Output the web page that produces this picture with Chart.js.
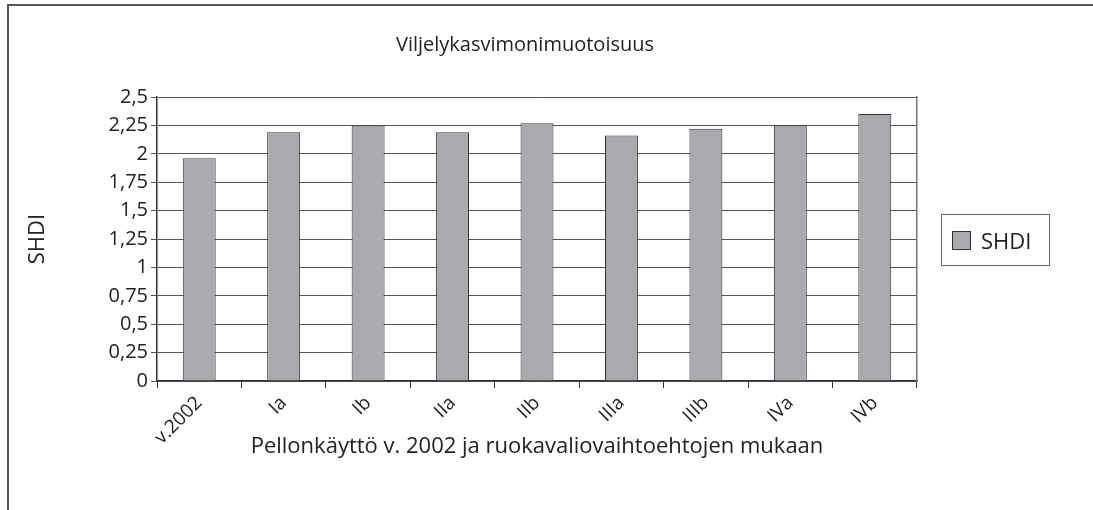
<!DOCTYPE html>
<html lang="fi">
<head>
  <meta charset="UTF-8" />
  <title>Viljelykasvimonimuotoisuus</title>
  <script src="https://cdn.jsdelivr.net/npm/chart.js"></script>
  <style>
    html, body { margin: 0; padding: 0; background: #fff; }
    #wrap { position: relative; width: 1093px; height: 510px; overflow: hidden; }
    #frame {
      position: absolute; left: 7px; top: 4px; width: 1200px; height: 600px;
      border-top: 2px solid #555; border-left: 2px solid #555;
    }
    #legend {
      position: absolute; left: 941px; top: 214px; width: 107px; height: 50px;
      border: 1.5px solid #666; font-family: 'Open Sans', sans-serif; font-size: 22px;
      color: #222; display: flex; align-items: center;
    }
    #legend .sw {
      width: 17px; height: 17px; background: #a9aaae; border: 1px solid #333;
      margin-left: 10px; margin-right: 10px;
    }
  </style>
</head>
<body>
  <div id="wrap">
    <div id="frame"></div>
    <canvas id="chart" width="1093" height="510"></canvas>
    <div id="legend"><span class="sw"></span><span>SHDI</span></div>
  </div>

  <script>
    // data
    const categories = ['v.2002', 'Ia', 'Ib', 'IIa', 'IIb', 'IIIa', 'IIIb', 'IVa', 'IVb'];
    const shdi = [1.96, 2.19, 2.25, 2.19, 2.27, 2.16, 2.22, 2.25, 2.35];
    const yTicks = [0, 0.25, 0.5, 0.75, 1, 1.25, 1.5, 1.75, 2, 2.25, 2.5];

    const font = "'Open Sans', sans-serif";
    const ink = '#222';

    new Chart(document.getElementById('chart'), {
      type: 'bar',
      data: {
        labels: categories,
        datasets: [{
          label: 'SHDI',
          data: shdi,
          backgroundColor: '#a9aaae',
          borderColor: '#333',
          borderWidth: 1,
          categoryPercentage: 1,
          barPercentage: 0.39
        }]
      },
      options: {
        responsive: false,
        animation: false,
        layout: { padding: { left: 24, right: 67, top: 0, bottom: 0 } },
        plugins: {
          legend: { display: false },
          tooltip: { enabled: false },
          title: {
            display: true,
            text: 'Viljelykasvimonimuotoisuus',
            color: ink,
            font: { family: font, size: 20, weight: 'normal' },
            padding: { top: 33, bottom: 40 }
          }
        },
        scales: {
          x: {
            grid: { drawOnChartArea: false, drawTicks: true, tickLength: 7, color: '#333', offset: true },
            border: { color: '#333', width: 1.5 },
            ticks: { color: ink, font: { family: font, size: 19 }, minRotation: 45, maxRotation: 45, padding: 4 },
            title: {
              display: true,
              text: 'Pellonkäyttö v. 2002 ja ruokavaliovaihtoehtojen mukaan',
              color: ink,
              font: { family: font, size: 22 },
              padding: { top: 0, bottom: 50 }
            },
            afterFit: s => { s.height = 129; }
          },
          y: {
            min: 0,
            max: 2.5,
            afterBuildTicks: s => { s.ticks = yTicks.map(v => ({ value: v })); },
            grid: { color: '#555', lineWidth: 1, tickLength: 6 },
            border: { color: '#333', width: 1.5 },
            ticks: {
              color: ink,
              font: { family: font, size: 20 },
              padding: 3,
              callback: v => String(v).replace('.', ',')
            },
            title: {
              display: true,
              text: 'SHDI',
              color: ink,
              font: { family: font, size: 22 },
              padding: { top: 1, bottom: 0 }
            },
            afterFit: s => { s.width = 133; }
          },
          y2: {
            position: 'right',
            grid: { display: false },
            ticks: { display: false },
            border: { display: true, color: '#777', width: 1.5 },
            afterFit: s => { s.width = 109; }
          }
        }
      }
    });
  </script>
</body>
</html>
